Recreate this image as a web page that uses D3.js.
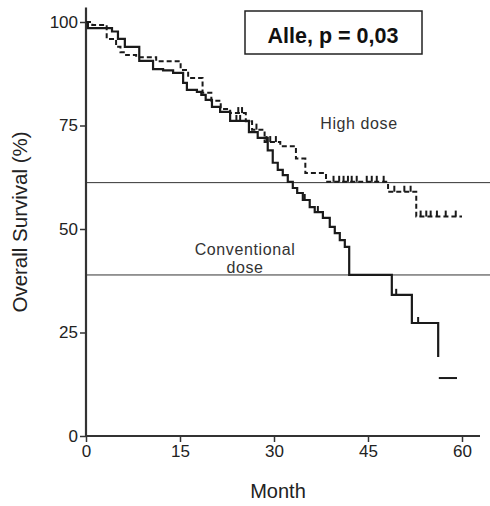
<!DOCTYPE html>
<html><head><meta charset="utf-8">
<script src="https://cdn.jsdelivr.net/npm/d3@7"></script>
<style>body{margin:0;background:#fff}svg{display:block}</style>
</head><body>
<script>
// ---- data ----
const xTicks = [0, 15, 30, 45, 60];
const yTicks = [0, 25, 50, 75, 100];
const convTime = [0, 0.3, 4.15, 5.1, 6.2, 8.5, 10.7, 12.3, 13.9, 15.5, 16.1, 17.7, 18.4, 19.1, 20.1, 21.4, 23.0, 26.0, 27.4, 29.0, 29.8, 30.6, 31.4, 32.2, 33.0, 33.7, 34.6, 35.7, 36.5, 37.8, 38.9, 39.7, 40.5, 41.3, 42.0, 48.8, 52.0, 56.2];
const convSurv = [100, 98.5, 97.7, 95.9, 94.0, 90.6, 88.6, 88.3, 87.7, 85.3, 83.6, 83.1, 82.4, 81.2, 79.5, 78.3, 76.1, 73.4, 72.0, 69.0, 66.0, 64.3, 63.0, 61.4, 59.9, 58.7, 57.0, 55.3, 54.1, 52.7, 50.5, 49.0, 47.3, 45.7, 38.9, 34.1, 27.3, 19.1];
const convTailTime = [56.3, 59.2];
const convTailSurv = [14, 14];
const highTime = [0, 1.0, 3.3, 4.8, 5.5, 6.4, 8.0, 11.2, 15.1, 16.3, 18.6, 20.0, 21.5, 23.0, 25.5, 26.5, 28.5, 31.0, 33.5, 35.0, 38.3, 48.2, 52.7, 60];
const highSurv = [100, 99.3, 95.9, 94.0, 92.7, 92.0, 91.5, 90.5, 88.4, 86.5, 82.9, 81.0, 79.0, 78.0, 76.0, 74.0, 71.0, 70.0, 67.0, 63.5, 61.4, 59.0, 53.0, 53.0];
const highCensor = [24.3, 24.9, 27.2, 28.8, 29.4, 30.3, 39.5, 40.4, 41.1, 41.8, 42.4, 43.2, 44.8, 45.6, 46.4, 47.5, 49.2, 50.8, 51.8, 53.4, 54.3, 55.0, 56.0, 57.4, 59.0];
const convCensor = [24.0, 24.6, 34.9, 37.0, 49.5, 53.0];
const refLines = [61.2, 38.9];
const labelHigh = "High dose";
const labelConv = ["Conventional", "dose"];
const boxText = "Alle, p = 0,03";
const xTitle = "Month";
const yTitle = "Overall Survival (%)";

// ---- layout ----
const W = 490, H = 506;
const svg = d3.select("body").append("svg").attr("width", W).attr("height", H);
const x = d3.scaleLinear().domain([0, 60]).range([86, 462]);
const y = d3.scaleLinear().domain([0, 100]).range([436, 22]);
const font = "Liberation Sans, Arial, Helvetica, sans-serif";
const ink = "#1a1a1a";

// reference lines
svg.selectAll(".ref").data(refLines).enter().append("line")
  .attr("x1", x(0)).attr("x2", W)
  .attr("y1", d => y(d)).attr("y2", d => y(d))
  .attr("stroke", "#333").attr("stroke-width", 1);

// axes
const xAxis = svg.append("g").attr("transform", `translate(0,${y(0)})`)
  .call(d3.axisBottom(x).tickValues(xTicks).tickSize(6).tickPadding(3).tickSizeOuter(0));
const yAxis = svg.append("g").attr("transform", `translate(${x(0)},0)`)
  .call(d3.axisLeft(y).tickValues(yTicks).tickSize(6).tickPadding(2).tickSizeOuter(0));
[xAxis, yAxis].forEach(g => {
  g.select(".domain").remove();
  g.selectAll(".tick line").attr("stroke", "#333").attr("stroke-width", 1.5);
  g.selectAll(".tick text").attr("fill", "#222").attr("font-size", 17).attr("font-family", font);
});
// axis lines
svg.append("line").attr("x1", x(0)).attr("x2", 480).attr("y1", y(0)).attr("y2", y(0))
  .attr("stroke", "#333").attr("stroke-width", 2.2);
svg.append("line").attr("x1", x(0)).attr("x2", x(0)).attr("y1", y(0)).attr("y2", y(103.5))
  .attr("stroke", "#333").attr("stroke-width", 2.2);

// curves
const step = d3.line().x(d => x(d[0])).y(d => y(d[1])).curve(d3.curveStepAfter);
const conv = convTime.map((t, i) => [t, convSurv[i]]);
const high = highTime.map((t, i) => [t, highSurv[i]]);
const tail = convTailTime.map((t, i) => [t, convTailSurv[i]]);
svg.append("path").attr("d", step(high)).attr("fill", "none")
  .attr("stroke", ink).attr("stroke-width", 2).attr("stroke-dasharray", "5,3");
svg.append("path").attr("d", step(conv)).attr("fill", "none")
  .attr("stroke", ink).attr("stroke-width", 2.2);
svg.append("path").attr("d", d3.line().x(d => x(d[0])).y(d => y(d[1]))(tail)).attr("fill", "none")
  .attr("stroke", ink).attr("stroke-width", 2);

function valAt(times, vals, t) {
  let v = vals[0];
  for (let i = 0; i < times.length; i++) if (times[i] <= t) v = vals[i];
  return v;
}
svg.selectAll(".hc").data(highCensor).enter().append("line")
  .attr("x1", d => x(d)).attr("x2", d => x(d))
  .attr("y1", d => y(valAt(highTime, highSurv, d))).attr("y2", d => y(valAt(highTime, highSurv, d)) - 6)
  .attr("stroke", ink).attr("stroke-width", 2);
svg.selectAll(".cc").data(convCensor).enter().append("line")
  .attr("x1", d => x(d)).attr("x2", d => x(d))
  .attr("y1", d => y(valAt(convTime, convSurv, d))).attr("y2", d => y(valAt(convTime, convSurv, d)) - 6)
  .attr("stroke", ink).attr("stroke-width", 2);

// labels
const lab = (t, xx, yy) => svg.append("text").attr("x", xx).attr("y", yy).attr("text-anchor", "middle")
  .attr("font-family", font).attr("font-size", 16).attr("letter-spacing", 0.6).attr("fill", "#333").text(t);
lab(labelHigh, 359, 129);
lab(labelConv[0], 245, 255);
lab(labelConv[1], 245, 273);

// box
svg.append("rect").attr("x", 245).attr("y", 11).attr("width", 177).attr("height", 43)
  .attr("fill", "#fff").attr("stroke", "#222").attr("stroke-width", 1.5);
svg.append("text").attr("x", 333).attr("y", 43).attr("text-anchor", "middle")
  .attr("font-family", font).attr("font-weight", "bold").attr("font-size", 21.5).attr("fill", "#111").text(boxText);

// titles
svg.append("text").attr("x", 278).attr("y", 498).attr("text-anchor", "middle")
  .attr("font-family", font).attr("font-size", 20).attr("fill", "#222").text(xTitle);
svg.append("text").attr("transform", "translate(27,222) rotate(-90)").attr("text-anchor", "middle")
  .attr("font-family", font).attr("font-size", 20.5).attr("fill", "#222").text(yTitle);
</script>
</body></html>
